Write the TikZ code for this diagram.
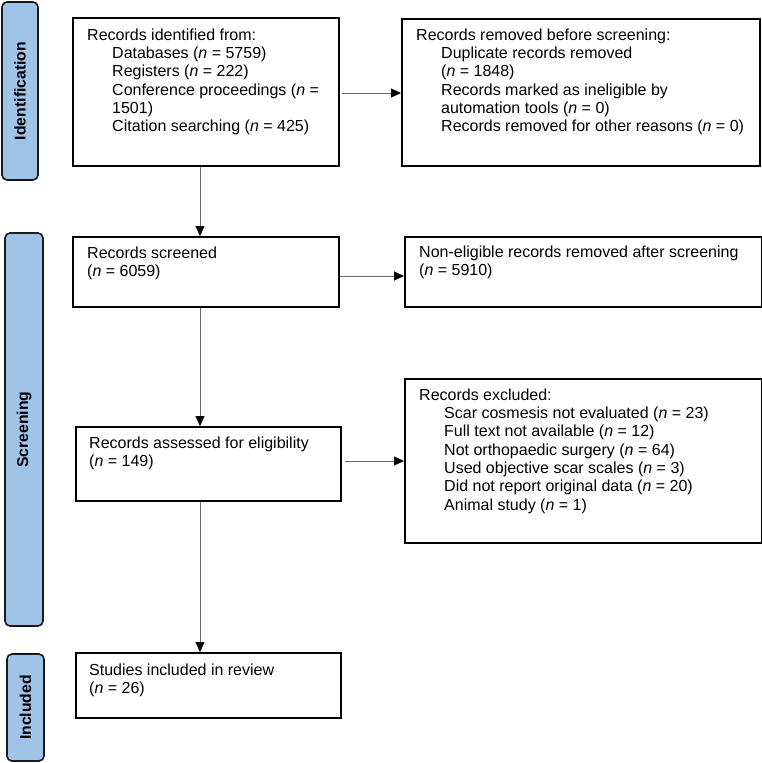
\documentclass[tikz,border=0pt]{standalone}
\usepackage{fontspec}
\setmainfont{Liberation Sans}
\usetikzlibrary{arrows.meta}
\definecolor{barblue}{RGB}{160,195,232}
\definecolor{arrowgray}{RGB}{105,105,105}
\begin{document}
\begin{tikzpicture}[x=1pt,y=-1pt,
  box/.style={draw=black,line width=1.7pt,inner sep=0pt,anchor=north west},
  bar/.style={draw=black!90,fill=barblue,line width=1.6pt,rounded corners=5pt,inner sep=0pt},
  bartext/.style={font=\fontsize{15.75}{18}\selectfont\bfseries,rotate=90,inner sep=0pt},
  txt/.style={anchor=north west,inner sep=0pt,align=left,font=\fontsize{16}{18.33}\selectfont},
  arr/.style={draw=arrowgray,line width=1pt,-{Triangle[length=10pt,width=9pt,fill=black,color=black]}}]
\useasboundingbox (0,0) rectangle (762,763);

% phase bars
\node[bar,minimum width=36pt,minimum height=178pt] (bar1) at (20,91) {};
\node[bartext] (lab1) at (bar1.center) {Identification};
\node[bar,minimum width=38pt,minimum height=393pt] (bar2) at (24,429.5) {};
\node[bartext] (lab2) at (bar2.center) {Screening};
\node[bar,minimum width=37pt,minimum height=107pt] (bar3) at (25.5,707.5) {};
\node[bartext] (lab3) at (bar3.center) {Included};

% boxes
\node[box,minimum width=266pt,minimum height=148pt] (b1) at (72,17) {};
\node[box,minimum width=358pt,minimum height=147pt] (b2) at (401,18) {};
\node[box,minimum width=266pt,minimum height=70pt] (b3) at (72,236) {};
\node[box,minimum width=357pt,minimum height=70pt] (b4) at (404,236) {};
\node[box,minimum width=265pt,minimum height=74pt] (b5) at (75,426) {};
\node[box,minimum width=357pt,minimum height=164pt] (b6) at (404,378) {};
\node[box,minimum width=265pt,minimum height=65pt] (b7) at (75,652) {};

% texts
\node[txt] (t1) at (87,28.5) {Records identified from:\\
\hspace*{25pt}Databases (\textit{n} = 5759)\\
\hspace*{25pt}Registers (\textit{n} = 222)\\
\hspace*{25pt}Conference proceedings (\textit{n} =\\
\hspace*{25pt}1501)\\
\hspace*{25pt}Citation searching (\textit{n} = 425)};
\node[txt] (t2) at (416,28.5) {Records removed before screening:\\
\hspace*{25pt}Duplicate records removed\\
\hspace*{25pt}(\textit{n} = 1848)\\
\hspace*{25pt}Records marked as ineligible by\\
\hspace*{25pt}automation tools (\textit{n} = 0)\\
\hspace*{25pt}Records removed for other reasons (\textit{n} = 0)};
\node[txt] (t3) at (87,246.5) {Records screened\\(\textit{n} = 6059)};
\node[txt] (t4) at (419,245.5) {Non-eligible records removed after screening\\(\textit{n} = 5910)};
\node[txt] (t5) at (89,436.5) {Records assessed for eligibility\\(\textit{n} = 149)};
\node[txt] (t6) at (419,388.5) {Records excluded:\\
\hspace*{25pt}Scar cosmesis not evaluated (\textit{n} = 23)\\
\hspace*{25pt}Full text not available (\textit{n} = 12)\\
\hspace*{25pt}Not orthopaedic surgery (\textit{n} = 64)\\
\hspace*{25pt}Used objective scar scales (\textit{n} = 3)\\
\hspace*{25pt}Did not report original data (\textit{n} = 20)\\
\hspace*{25pt}Animal study (\textit{n} = 1)};
\node[txt] (t7) at (89,663.5) {Studies included in review\\(\textit{n} = 26)};

% connectors
\coordinate (col) at (200,0);
\coordinate (r1) at (0,93);
\coordinate (r2) at (0,276);
\coordinate (r3) at (0,461);
\draw[arr] (b1.south -| col) -- (b3.north -| col);
\draw[arr] (b3.south -| col) -- (b5.north -| col);
\draw[arr] (b5.south -| col) -- (b7.north -| col);
\draw[arr,shorten <=2pt] (b1.east |- r1) -- (b2.west |- r1);
\draw[arr] (b3.east |- r2) -- (b4.west |- r2);
\draw[arr,shorten <=3pt] (b5.east |- r3) -- (b6.west |- r3);
\end{tikzpicture}
\end{document}
